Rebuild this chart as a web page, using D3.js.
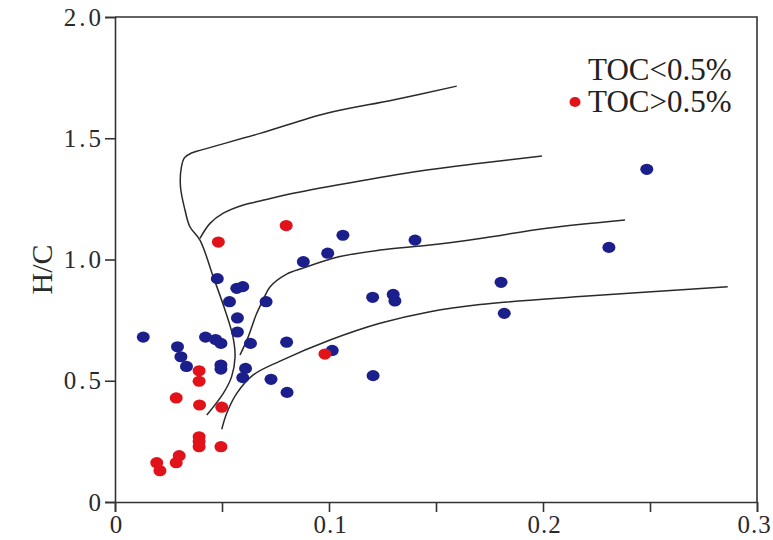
<!DOCTYPE html>
<html>
<head>
<meta charset="utf-8">
<script src="https://cdn.jsdelivr.net/npm/d3@7"></script>
<style>
  body { margin: 0; background: #fff; }
  svg { display: block; }
  .axis text { font-family: "Liberation Serif", "Times New Roman", serif; fill: #2a2a2a; }
</style>
</head>
<body>
<div id="chart"></div>
<script>
// Axis ticks
const xTicks = [0, 0.05, 0.1, 0.15, 0.2, 0.25, 0.3];
const xTickLabels = ["0", "", "0.1", "", "0.2", "", "0.3"];
const yTicks = [0, 0.5, 1.0, 1.5, 2.0];
const yTickLabels = ["0", "0.5", "1.0", "1.5", "2.0"];

// TOC<0.5% samples (O/C, H/C)
const lowTocOC = [0.0132, 0.0292, 0.0308, 0.0334, 0.0423, 0.0470, 0.0495, 0.0495, 0.0495, 0.0478,
    0.0535, 0.0569, 0.0597, 0.0572, 0.0572, 0.0610, 0.0597, 0.0633, 0.0706, 0.0729,
    0.0802, 0.0804, 0.0880, 0.0994, 0.1065, 0.1015, 0.1204, 0.1206, 0.1300, 0.1308,
    0.1402, 0.1804, 0.1819, 0.2308, 0.2485];
const lowTocHC = [0.680, 0.640, 0.599, 0.559, 0.680, 0.670, 0.654, 0.565, 0.548, 0.921,
    0.826, 0.881, 0.888, 0.759, 0.701, 0.551, 0.513, 0.654, 0.826, 0.506,
    0.659, 0.452, 0.991, 1.026, 1.100, 0.625, 0.844, 0.521, 0.856, 0.829,
    1.080, 0.906, 0.778, 1.050, 1.372];

// TOC>0.5% samples (O/C, H/C)
const highTocOC = [0.0800, 0.0483, 0.0393, 0.0393, 0.0286, 0.0395, 0.0499, 0.0393, 0.0393, 0.0393,
    0.0495, 0.0300, 0.0286, 0.0195, 0.0210, 0.0981];
const highTocHC = [1.140, 1.072, 0.541, 0.498, 0.429, 0.400, 0.391, 0.269, 0.249, 0.228,
    0.228, 0.191, 0.162, 0.162, 0.129, 0.610];

// Kerogen type boundary curves, [O/C, H/C]
const curveOne = [[0.0429, 0.359], [0.0506, 0.448], [0.0545, 0.517], [0.0561, 0.598], [0.0551, 0.682],
    [0.0514, 0.792], [0.0459, 0.929], [0.0397, 1.080], [0.0350, 1.135], [0.0327, 1.204],
    [0.0306, 1.300], [0.0310, 1.380], [0.0325, 1.420], [0.0355, 1.438], [0.0405, 1.452],
    [0.0678, 1.520], [0.0989, 1.603], [0.1300, 1.658], [0.1597, 1.715]];
const curveTwo = [[0.0397, 1.087], [0.0444, 1.149], [0.0506, 1.191], [0.0600, 1.225], [0.0678, 1.241],
    [0.0833, 1.273], [0.1145, 1.324], [0.1457, 1.369], [0.1706, 1.397], [0.1995, 1.427]];
const curveThree = [[0.0584, 0.606], [0.0623, 0.682], [0.0659, 0.771], [0.0692, 0.833], [0.0724, 0.887],
    [0.0802, 0.940], [0.0880, 0.965], [0.1051, 1.012], [0.1238, 1.039], [0.1472, 1.060],
    [0.1706, 1.087], [0.2017, 1.129], [0.2383, 1.163]];
const curveFour = [[0.0499, 0.300], [0.0522, 0.366], [0.0569, 0.448], [0.0646, 0.524], [0.0771, 0.581],
    [0.1005, 0.668], [0.1238, 0.737], [0.1472, 0.785], [0.1706, 0.814], [0.2173, 0.847],
    [0.2863, 0.888]];

const legendLabels = ["TOC<0.5%", "TOC>0.5%"];

const blue = "#1b1f8c";
const red = "#e2121b";

// set the dimensions and margins of the graph
const margin = { top: 17, right: 16, bottom: 38, left: 115 };
const width = 773 - margin.left - margin.right;
const height = 540 - margin.top - margin.bottom;

var svg = d3.select("#chart")
    .append("svg")
    .attr("width", 773)
    .attr("height", 540)
    .append("g")
    .attr("transform", "translate(" + margin.left + "," + margin.top + ")");

var x = d3.scaleLinear().domain([0, 0.3]).range([0, width]);
var y = d3.scaleLinear().domain([0, 2.0]).range([height, 0]);

// frame (top and right)
svg.append("path")
    .attr("d", "M0,0H" + x(0.3) + "V" + y(0))
    .attr("fill", "none")
    .attr("stroke", "#333")
    .attr("stroke-width", 1.6);

// X axis
var xAxis = svg.append("g")
    .attr("class", "axis")
    .attr("transform", "translate(0," + height + ")")
    .call(d3.axisBottom(x)
        .tickValues(xTicks)
        .tickSize(10)
        .tickPadding(3)
        .tickFormat((d, i) => xTickLabels[i]));
xAxis.selectAll("text")
    .style("font-size", "25px")
    .style("letter-spacing", "1px")
    .attr("dx", d => d == 0.3 ? "-3px" : "1px");

// Y axis
var yAxis = svg.append("g")
    .attr("class", "axis")
    .call(d3.axisLeft(y)
        .tickValues(yTicks)
        .tickSize(10)
        .tickPadding(1)
        .tickFormat((d, i) => yTickLabels[i]));
yAxis.selectAll("text")
    .style("font-size", "25px")
    .style("letter-spacing", "3px");

svg.selectAll(".axis path, .axis line")
    .attr("stroke", "#333")
    .attr("stroke-width", 1.6);

// Y axis label
svg.append("text")
    .attr("transform", "rotate(-90)")
    .attr("x", -(y(1.0) + 10))
    .attr("y", -margin.left + 52)
    .attr("text-anchor", "middle")
    .style("font-family", "Liberation Serif, serif")
    .style("font-size", "30px")
    .style("fill", "#2a2a2a")
    .text("H/C");

// boundary curves
var line = d3.line()
    .x(d => x(d[0]))
    .y(d => y(d[1]))
    .curve(d3.curveCatmullRom.alpha(0.5));

svg.append("g")
    .selectAll("path")
    .data([curveOne, curveTwo, curveThree, curveFour])
    .enter()
    .append("path")
    .attr("d", line)
    .attr("fill", "none")
    .attr("stroke", "#2a2a2a")
    .attr("stroke-width", 1.5);

// sample points
svg.append("g")
    .selectAll("ellipse")
    .data(d3.range(lowTocOC.length))
    .enter()
    .append("ellipse")
    .attr("cx", i => x(lowTocOC[i]))
    .attr("cy", i => y(lowTocHC[i]))
    .attr("rx", 6.5)
    .attr("ry", 5.6)
    .attr("fill", blue);

svg.append("g")
    .selectAll("ellipse")
    .data(d3.range(highTocOC.length))
    .enter()
    .append("ellipse")
    .attr("cx", i => x(highTocOC[i]))
    .attr("cy", i => y(highTocHC[i]))
    .attr("rx", 6.5)
    .attr("ry", 5.6)
    .attr("fill", red);

// legend (the first marker is not shown in the original)
var legend = svg.append("g")
    .attr("transform", "translate(" + (x(0.3) - 169) + "," + 63 + ")");

legend.selectAll("text")
    .data(legendLabels)
    .enter()
    .append("text")
    .attr("x", 0)
    .attr("y", (d, i) => i * 32)
    .style("font-family", "Liberation Serif, serif")
    .style("font-size", "31px")
    .style("fill", "#222")
    .text(d => d);

legend.append("ellipse")
    .attr("cx", -13)
    .attr("cy", 32 - 10)
    .attr("rx", 5.5)
    .attr("ry", 5)
    .attr("fill", red);
</script>
</body>
</html>
